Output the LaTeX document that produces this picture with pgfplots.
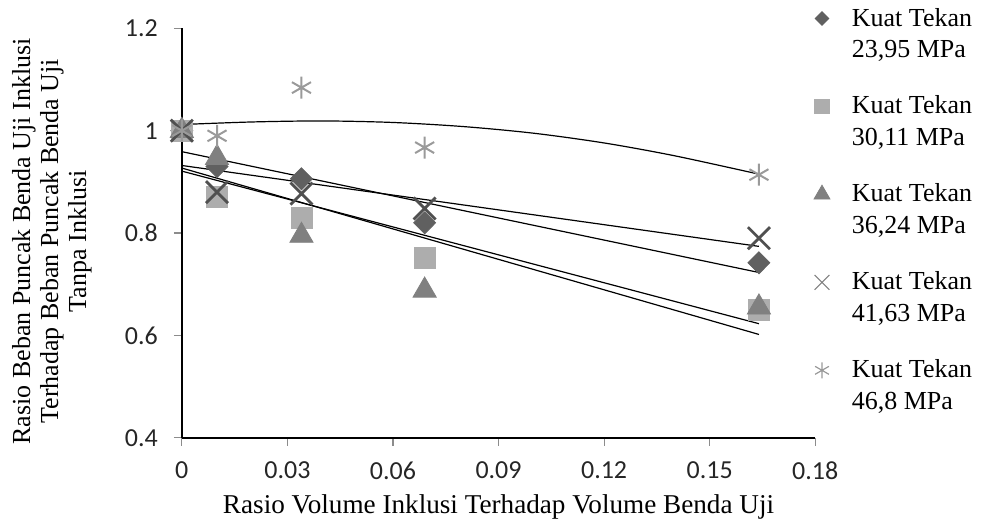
\documentclass[border=0pt]{standalone}
\usepackage{fontspec}
\setmainfont{Liberation Serif}
\newfontfamily\ticksfont{Carlito}
\usepackage{pgfplots}
\pgfplotsset{compat=1.18}

\definecolor{cdia}{HTML}{606060}
\definecolor{csq}{HTML}{ADADAD}
\definecolor{ctri}{HTML}{808080}
\definecolor{cx}{HTML}{505050}
\definecolor{cast}{HTML}{9A9A9A}

\begin{document}
\begin{tikzpicture}
\begin{axis}[
    scale only axis,
    width=317pt, height=205pt,
    xmin=0, xmax=0.18, ymin=0.4, ymax=1.2,
    axis x line=bottom, axis y line=left,
    axis line style={-, line width=1.1pt},
    xtick={0,0.03,0.06,0.09,0.12,0.15,0.18},
    xticklabels={0,0.03,0.06,0.09,0.12,0.15,0.18},
    ytick={0.4,0.6,0.8,1,1.2},
    yticklabels={0.4,0.6,0.8,1,1.2},
    ticklabel style={font=\fontsize{13}{15}\ticksfont, text=black!85},
    xticklabel style={yshift=-4.5pt},
    yticklabel style={xshift=-4.5pt},
    tick align=outside,
    major tick length=4pt,
    tick style={black!45, line width=0.6pt},
    clip=false,
    xlabel={Rasio Volume Inklusi Terhadap Volume Benda Uji},
    ylabel={Rasio Beban Puncak Benda Uji Inklusi\\Terhadap Beban Puncak Benda Uji\\Tanpa Inklusi},
    label style={font=\fontsize{13}{14}\selectfont},
    xlabel style={at={(axis description cs:0.5,-0.168)}, anchor=center, font=\fontsize{13.6}{15}\selectfont},
    ylabel style={at={(axis description cs:-0.205,0.48)}, anchor=center, align=center},
    legend style={draw=none, fill=none, at={(axis description cs:0.988,1.07)}, anchor=north west,
        font=\fontsize{13}{16}\selectfont, nodes={align=left}, row sep=13.5pt,
        /tikz/every odd column/.append style={column sep=9pt}},
    legend cell align=left,
]

% data points
\addplot[only marks, mark=diamond*, mark size=5.5pt, mark options={xscale=1.33, fill=cdia, draw=cdia},
    legend image post style={yshift=8pt, mark size=3.4pt}] coordinates {
    (0, 1.0) (0.010, 0.930) (0.034, 0.906) (0.069, 0.820) (0.164, 0.742)
};
\addplot[only marks, mark=square*, mark size=5.25pt, mark options={fill=csq, draw=csq},
    legend image post style={yshift=8pt, mark size=3.6pt}] coordinates {
    (0, 1.0) (0.010, 0.870) (0.034, 0.830) (0.069, 0.752) (0.164, 0.650)
};
\addplot[only marks, mark=triangle*, mark size=6.7pt, mark options={fill=ctri, draw=ctri},
    legend image post style={yshift=8pt, mark size=4.6pt}] coordinates {
    (0, 1.0) (0.010, 0.947) (0.034, 0.795) (0.069, 0.688) (0.164, 0.655)
};
\addplot[only marks, mark=x, mark size=7.8pt, mark options={draw=cx, line width=1.4pt},
    legend image post style={yshift=8pt, mark size=5.2pt, mark options={draw=black!50, line width=0.6pt}}] coordinates {
    (0, 1.0) (0.010, 0.880) (0.034, 0.877) (0.069, 0.848) (0.164, 0.790)
};
\addplot[only marks, mark=asterisk, mark size=5.5pt, mark options={draw=cast, line width=1pt},
    legend image post style={yshift=8pt, mark size=4pt, mark options={draw=black!40, line width=0.6pt}}] coordinates {
    (0, 1.0) (0.010, 0.990) (0.034, 1.084) (0.069, 0.967) (0.164, 0.914)
};

% trendlines
\addplot[forget plot, black, line width=0.6pt] coordinates {(0, 0.959) (0.164, 0.723)};
\addplot[forget plot, black, line width=0.6pt] coordinates {(0, 0.921) (0.164, 0.623)};
\addplot[forget plot, black, line width=0.6pt] coordinates {(0, 0.927) (0.164, 0.602)};
\addplot[forget plot, black, line width=0.6pt] coordinates {(0, 0.932) (0.164, 0.774)};
\addplot[forget plot, black, line width=0.6pt, smooth] coordinates {
    (0, 1.012) (0.02, 1.017) (0.04, 1.019) (0.06, 1.016) (0.08, 1.008)
    (0.10, 0.995) (0.12, 0.976) (0.14, 0.951) (0.164, 0.915)
};

\legend{{Kuat Tekan\\23,95 MPa}, {Kuat Tekan\\30,11 MPa}, {Kuat Tekan\\36,24 MPa},
        {Kuat Tekan\\41,63 MPa}, {Kuat Tekan\\46,8 MPa}}

\coordinate (O) at (rel axis cs:0,0);
\end{axis}
\path[use as bounding box] (O) ++(-91pt,-45.5pt) rectangle ++(491pt,264pt);
\end{tikzpicture}
\end{document}
